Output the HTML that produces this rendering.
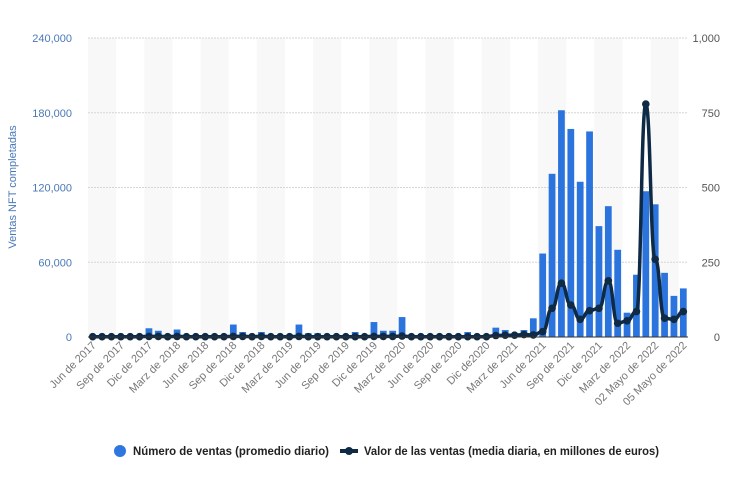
<!DOCTYPE html>
<html><head><meta charset="utf-8"><style>
body{margin:0;background:#fff;font-family:"Liberation Sans",sans-serif}
svg text{font-family:"Liberation Sans",sans-serif}
</style></head><body>
<svg width="740" height="487" viewBox="0 0 740 487">
<g id="bands"></g><g id="grid"></g><g id="bars"></g><g id="line"></g><g id="axes"></g>
<g>
<g>
<circle cx="120" cy="451" r="6" fill="#2f77e0"/>
<text x="133" y="455" font-size="12" font-weight="bold" fill="#222" textLength="196" lengthAdjust="spacingAndGlyphs">Número de ventas (promedio diario)</text></g>
<g>
<line x1="340" y1="451" x2="358" y2="451" stroke="#0f2a44" stroke-width="4"/>
<circle cx="349" cy="451" r="4" fill="#0f2a44"/>
<text x="364" y="455" font-size="12" font-weight="bold" fill="#222" textLength="295" lengthAdjust="spacingAndGlyphs">Valor de las ventas (media diaria, en millones de euros)</text></g>
</g>
</svg>
<script>
const salesValues=[0,0,0,0,0,0,7000,5000,0,6000,0,0,0,0,0,10000,4000,0,4000,0,0,0,10000,3000,3000,0,0,0,4000,0,12000,5000,5000,16000,0,0,0,0,0,0,4000,0,0,7500,5600,3000,5600,15000,67000,131000,182000,167000,124600,165000,89000,105000,70000,19500,50000,117000,106500,51500,33000,39000];
const valueSeries=[1,1,1,1,1,1,2,2,1,2,1,1,1,1,1,2,2,1,2,1,1,1,2,1,1,1,1,1,1,1,2,2,2,3,1,1,1,1,1,1,1,1,1,5,6,6,8,7,18,96,180,107,59,88,96,188,46,54,85,779,260,63,59,85];
const tickLabels=["Jun de 2017","Sep de 2017","Dic de 2017","Marz de 2018","Jun de 2018","Sep de 2018","Dic de 2018","Marz de 2019","Jun de 2019","Sep de 2019","Dic de 2019","Marz de 2020","Jun de 2020","Sep de 2020","Dic de2020","Marz de 2021","Jun de 2021","Sep de 2021","Dic de 2021","Marz de 2022","02 Mayo de 2022","05 Mayo de 2022"];
const leftTicks=[0,60000,120000,180000,240000];
const rightTicks=[0,250,500,750,1000];
const NS="http://www.w3.org/2000/svg";
const X0=88,X1=688,Y0=337,Y1=38;
const n=salesValues.length,step=(X1-X0)/n;
const xC=i=>X0+(i+0.5)*step;
const yL=v=>Y0-(v/240000)*(Y0-Y1);
const yR=v=>Y0-(v/1000)*(Y0-Y1);
function mk(tag,attrs,parent){const e=document.createElementNS(NS,tag);for(const k in attrs)e.setAttribute(k,attrs[k]);document.getElementById(parent).appendChild(e);return e;}
for(let g=0;g*3<n;g+=2){const r=mk('rect',{x:X0+g*3*step,y:Y1,width:3*step,height:Y0-Y1,fill:'#f8f8f8'},'bands');

}
leftTicks.forEach((t,i)=>{const y=yL(t);
if(t>0){const l=mk('line',{x1:X0,x2:X1,y1:y,y2:y,stroke:'#d6d6d6','stroke-dasharray':'2,1'},'grid');

}
const tx=mk('text',{x:72,y:y+4,'text-anchor':'end','font-size':11,fill:'#4a78b8'},'axes');tx.textContent=t.toLocaleString('en-US');

});
rightTicks.forEach(t=>{const tx=mk('text',{x:720,y:yR(t)+4,'text-anchor':'end','font-size':11,fill:'#555'},'axes');tx.textContent=t.toLocaleString('en-US');

});
const bw=step*0.72;
salesValues.forEach((v,i)=>{const y=yL(v);const r=mk('rect',{x:xC(i)-bw/2,y:y,width:bw,height:Y0-y,fill:'#2b74dd'},'bars');

});
const base=mk('line',{x1:X0,x2:X1,y1:Y0,y2:Y0,stroke:'#333','stroke-width':1},'axes');


let d='';const pts=valueSeries.map((v,i)=>[xC(i),yR(v)]);
pts.forEach((p,i)=>{if(i===0){d+=`M${p[0]},${p[1]}`;}else{const p0=pts[i-1];const cx=(p0[0]+p[0])/2;d+=` C${cx},${p0[1]} ${cx},${p[1]} ${p[0]},${p[1]}`;}});
const path=mk('path',{d:d,fill:'none',stroke:'#0f2a44','stroke-width':3.5},'line');


pts.forEach(p=>{const c=mk('circle',{cx:p[0],cy:p[1],r:3.8,fill:'#0f2a44'},'line');

});
tickLabels.forEach((t,k)=>{const x=xC(k*3)+4,y=346;const tx=mk('text',{x:x,y:y,'text-anchor':'end','font-size':11,fill:'#777',transform:`rotate(-45 ${x} ${y})`},'axes');tx.textContent=t;

});
const at=mk('text',{x:16,y:187,'text-anchor':'middle','font-size':11,fill:'#4a78b8',transform:'rotate(-90 16 187)'},'axes');at.textContent='Ventas NFT completadas';


</script>
</body></html>
